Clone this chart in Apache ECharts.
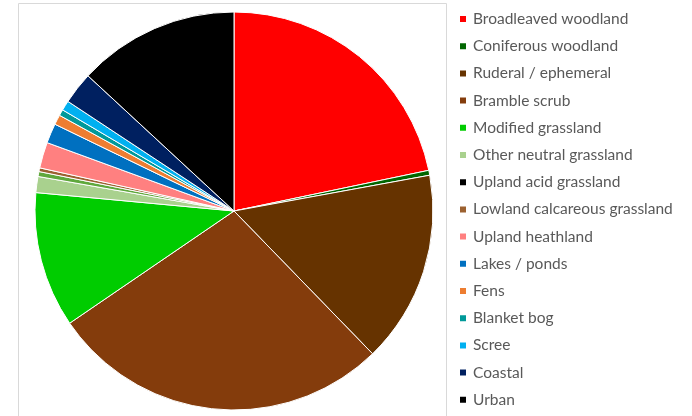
<!DOCTYPE html>
<html>
<head>
<meta charset="utf-8">
<script src="https://cdn.jsdelivr.net/npm/echarts@6/dist/echarts.min.js"></script>
<style>html,body{margin:0;padding:0;background:#fff;}#c{width:692px;height:416px;}</style>
</head>
<body>
<div id="c"></div>
<script>
const categories = ["Broadleaved woodland","Coniferous woodland","Ruderal / ephemeral","Bramble scrub","Modified grassland","Other neutral grassland","Upland acid grassland","Lowland calcareous grassland","Upland heathland","Lakes / ponds","Fens","Blanket bog","Scree","Coastal","Urban"];
const values = [21.7, 0.4, 15.6, 27.7, 11.0, 1.3, 0.4, 0.3, 2.1, 1.6, 0.8, 0.5, 0.8, 2.6, 13.1];
const sliceColors = ["#FF0000","#006600","#663300","#843C0C","#00CC00","#A9D18E","#5FA83C","#9C6130","#FF8080","#0070C0","#ED7D31","#009999","#00B0F0","#002060","#000000"];
const legendColors = ["#FF0000","#006600","#663300","#843C0C","#00CC00","#A9D18E","#000000","#9C6130","#FF8080","#0070C0","#ED7D31","#009999","#00B0F0","#002060","#000000"];

const chart = echarts.init(document.getElementById('c'), null, {renderer:'canvas'});
chart.setOption({
  animation: false,
  graphic: [{
    type: 'rect', silent: true,
    shape: {x: 18.5, y: 3.5, width: 428, height: 430},
    style: {fill: 'none', stroke: '#d9d9d9', lineWidth: 1}
  }],
  legend: {
    orient: 'vertical',
    left: 458, top: 11,
    padding: 0,
    icon: 'rect',
    itemWidth: 8, itemHeight: 8,
    itemGap: 11.2,
    textStyle: {color: '#595959', fontSize: 15.5, fontFamily: 'Lato', lineHeight: 16, padding: [0,0,0,1]},
    data: categories.map((n, i) => ({name: n, itemStyle: {color: legendColors[i]}}))
  },
  series: [{
    type: 'pie',
    center: [234, 211],
    radius: 199,
    startAngle: 90,
    clockwise: true,
    label: {show: false},
    labelLine: {show: false},
    emphasis: {disabled: true},
    itemStyle: {borderColor: '#ffffff', borderWidth: 1},
    data: categories.map((n, i) => ({name: n, value: values[i], itemStyle: {color: sliceColors[i]}}))
  }]
});
</script>
</body>
</html>
